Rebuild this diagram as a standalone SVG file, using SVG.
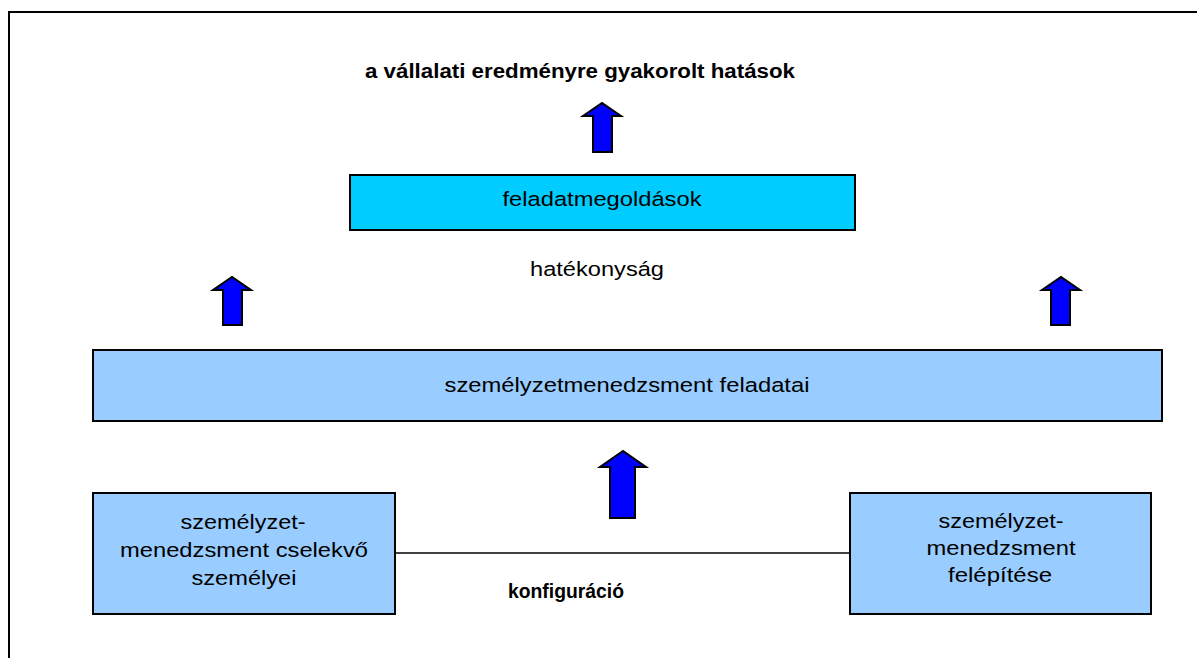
<svg xmlns="http://www.w3.org/2000/svg" width="1197" height="658" viewBox="0 0 1197 658">
<style>
text{font-family:"Liberation Sans",Arial,sans-serif;font-size:20.5px;fill:#000;text-anchor:middle}
.b{font-weight:bold}
.box{stroke:#000;stroke-width:2}
.arrow{fill:#0000FF;stroke:#000;stroke-width:2;stroke-linejoin:miter}
</style>
<rect width="1197" height="658" fill="#fff"/>
<rect x="9" y="12" width="1200" height="660" fill="none" stroke="#000" stroke-width="2"/>
<g id="connectors">
<line x1="395" y1="553" x2="850" y2="553" stroke="#000" stroke-width="1.5"/>
<polygon class="arrow" points="593,152 612,152 612,116 621,116 602,103 583,116 593,116"/>
<polygon class="arrow" points="223,325 242,325 242,290 251,290 232,277 213,290 223,290"/>
<polygon class="arrow" points="1051,325 1070,325 1070,290 1080,290 1061,277 1042,290 1051,290"/>
<polygon class="arrow" points="610,518 635,518 635,467 646,467 623,451 600,467 610,467"/>
</g>
<g id="title"><text class="b" x="580" y="78" style="font-size:20px" textLength="430" lengthAdjust="spacingAndGlyphs">a vállalati eredményre gyakorolt hatások</text></g>
<g id="feladatmegoldasok">
<rect class="box" x="350" y="175" width="505" height="55" fill="#00CCFF"/>
<text x="602" y="206" textLength="199" lengthAdjust="spacingAndGlyphs">feladatmegoldások</text>
</g>
<g id="hatekonysag"><text x="597" y="276" textLength="134" lengthAdjust="spacingAndGlyphs">hatékonyság</text></g>
<g id="feladatai">
<rect class="box" x="93" y="350" width="1069" height="71" fill="#99CCFF"/>
<text x="627" y="392" textLength="365" lengthAdjust="spacingAndGlyphs">személyzetmenedzsment feladatai</text>
</g>
<g id="cselekvo">
<rect class="box" x="93" y="493" width="302" height="121" fill="#99CCFF"/>
<text x="243" y="529" textLength="125" lengthAdjust="spacingAndGlyphs">személyzet-</text>
<text x="244" y="557" textLength="248" lengthAdjust="spacingAndGlyphs">menedzsment cselekvő</text>
<text x="244" y="585" textLength="105" lengthAdjust="spacingAndGlyphs">személyei</text>
</g>
<g id="felepitese">
<rect class="box" x="850" y="493" width="301" height="121" fill="#99CCFF"/>
<text x="1001" y="528" textLength="125" lengthAdjust="spacingAndGlyphs">személyzet-</text>
<text x="1001" y="555" textLength="149" lengthAdjust="spacingAndGlyphs">menedzsment</text>
<text x="1000" y="582" textLength="104" lengthAdjust="spacingAndGlyphs">felépítése</text>
</g>
<g id="konfiguracio"><text class="b" x="566" y="598" style="font-size:20px" textLength="116" lengthAdjust="spacingAndGlyphs">konfiguráció</text></g>
</svg>
